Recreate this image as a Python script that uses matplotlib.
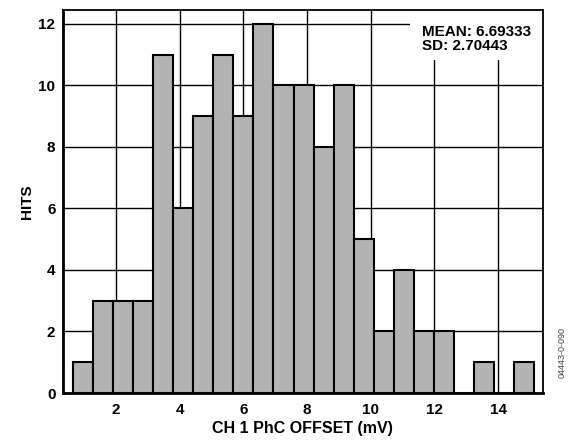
import numpy as np
import matplotlib
matplotlib.use('Agg')
import matplotlib.pyplot as plt
from matplotlib.patches import Rectangle

plt.rcParams['font.family'] = ['Liberation Sans', 'DejaVu Sans']
plt.rcParams['font.weight'] = 'bold'

# histogram data
counts = [1, 3, 3, 3, 11, 6, 9, 11, 9, 12, 10, 10, 8, 10, 5, 2, 4, 2, 2, 0, 1, 0, 1]
bin_start = 0.64
bin_width = 0.6305
edges = bin_start + bin_width * np.arange(len(counts))

x_ticks = [2, 4, 6, 8, 10, 12, 14]
y_ticks = [0, 2, 4, 6, 8, 10, 12]
stats_text = 'MEAN: 6.69333\nSD: 2.70443'

fig = plt.figure(figsize=(5.74, 4.40), dpi=100)
ax = fig.add_axes([0.1098, 0.1068, 0.8357, 0.8705])

ax.set_axisbelow(True)
ax.grid(True, color='black', linewidth=1.0)

# white patch behind the stats text (hides the grid there)
ax.add_patch(Rectangle((0.7234, 0.8695), 0.2766, 0.1305, transform=ax.transAxes,
                       facecolor='white', edgecolor='none', zorder=1))

ax.bar(edges, counts, width=bin_width, align='edge', color='#b3b3b3',
       edgecolor='black', linewidth=1.5, zorder=2)

ax.text(0.7485, 0.96, stats_text, transform=ax.transAxes, fontsize=11,
        fontweight='bold', va='top', ha='left', linespacing=1.0, zorder=3)

ax.set_xlim(0.335, 15.40)
ax.set_ylim(0, 12.45)
ax.set_xticks(x_ticks)
ax.set_yticks(y_ticks)
ax.tick_params(length=0, labelsize=11)
ax.tick_params(axis='x', pad=7)
ax.tick_params(axis='y', pad=5.5)

for s in ['left', 'bottom']:
    ax.spines[s].set_linewidth(2.0)
for s in ['top', 'right']:
    ax.spines[s].set_linewidth(1.3)

ax.set_xlabel('CH 1 PhC OFFSET (mV)', fontsize=11.5, fontweight='bold', labelpad=3)
ax.set_ylabel('HITS', fontsize=11, fontweight='bold', labelpad=3)

fig.text(0.979, 0.20, '04443-0-090', rotation=90, fontsize=6.5, fontweight='normal',
         color='#444444', ha='center', va='center')

fig.savefig('out.png', dpi=100)
